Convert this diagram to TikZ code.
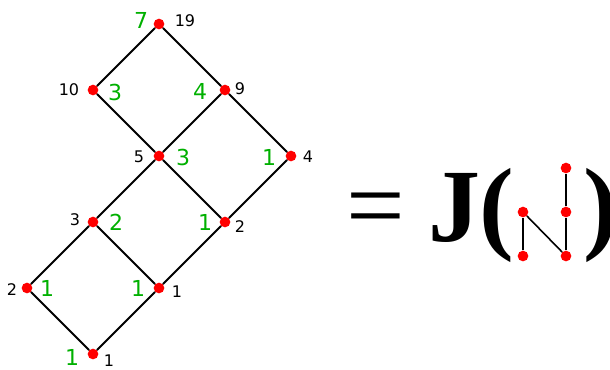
\documentclass[tikz,border=0pt]{standalone}
\usepackage{fontspec}
\usepackage{tikz}
\usetikzlibrary{positioning}
\newfontfamily\dejavu{DejaVu Sans}
\newfontfamily\bigserif{Liberation Serif}
\definecolor{cntgreen}{RGB}{0,176,0}

\begin{document}
\begin{tikzpicture}[
  x=0.75pt, y=-0.75pt,
  dot/.style={circle, fill=red, inner sep=0pt, minimum size=8pt},
  minidot/.style={circle, fill=red, inner sep=0pt, minimum size=8pt},
  val/.style={inner sep=0pt, font=\dejavu\fontsize{12}{14}\selectfont},
  cnt/.style={inner sep=0pt, text=cntgreen, font=\dejavu\fontsize{16.5}{18}\selectfont},
  big/.style={inner sep=0pt, anchor=base, font=\bigserif\fontsize{78}{88}\selectfont},
  edge/.style={line width=1.5pt},
  miniedge/.style={line width=1.2pt}
]
\useasboundingbox (0,0) rectangle (610,369);

% lattice
\node[dot] (n19) at (159,24) {};
\node[dot] (n10) at (93,90) {};
\node[dot] (n9)  at (225,90) {};
\node[dot] (n5)  at (159,156) {};
\node[dot] (n4)  at (291,156) {};
\node[dot] (n3)  at (93,222) {};
\node[dot] (n2r) at (225,222) {};
\node[dot] (n2l) at (27,288) {};
\node[dot] (n1m) at (159,288) {};
\node[dot] (n1b) at (93,354) {};

\draw[edge] (n19) -- (n10);
\draw[edge] (n19) -- (n9);
\draw[edge] (n10) -- (n5);
\draw[edge] (n9) -- (n5);
\draw[edge] (n9) -- (n4);
\draw[edge] (n5) -- (n3);
\draw[edge] (n5) -- (n2r);
\draw[edge] (n4) -- (n2r);
\draw[edge] (n3) -- (n2l);
\draw[edge] (n3) -- (n1m);
\draw[edge] (n2r) -- (n1m);
\draw[edge] (n2l) -- (n1b);
\draw[edge] (n1m) -- (n1b);

% values
\node[val] (v19) at (185,20.5) {19};
\node[val] (v10) at (69,90) {10};
\node[val] (v9)  at (240,89) {9};
\node[val] (v5)  at (139,157) {5};
\node[val] (v4)  at (308,157) {4};
\node[val] (v3)  at (75,220) {3};
\node[val] (v2r) at (240,227) {2};
\node[val] (v2l) at (12,290) {2};
\node[val] (v1m) at (177,292) {1};
\node[val] (v1b) at (109,361) {1};

% counts
\node[cnt] (c19) at (141,20) {7};
\node[cnt] (c10) at (115,92) {3};
\node[cnt] (c9)  at (200,91) {4};
\node[cnt] (c5)  at (183,157) {3};
\node[cnt] (c4)  at (269,157) {1};
\node[cnt] (c3)  at (116,222) {2};
\node[cnt] (c2r) at (205,222) {1};
\node[cnt] (c2l) at (47,288) {1};
\node[cnt] (c1m) at (138,288) {1};
\node[cnt] (c1b) at (72,357) {1};

% = J( poset )
\node[big] (eq) at (376,240) {=};
\node[big] (jay) at (454,241) {\bfseries J};
\node[big] (lpar) at (497,240) {\bfseries (};
\node[big] (rpar) at (601,240) {\bfseries )};

\node[minidot] (p1) at (523,256) {};
\node[minidot] (p2) at (523,212) {};
\node[minidot] (p3) at (566,256) {};
\node[minidot] (p4) at (566,212) {};
\node[minidot] (p5) at (566,168) {};

\draw[miniedge] (p1) -- (p2);
\draw[miniedge] (p2) -- (p3);
\draw[miniedge] (p3) -- (p4);
\draw[miniedge] (p4) -- (p5);

\end{tikzpicture}
\end{document}
